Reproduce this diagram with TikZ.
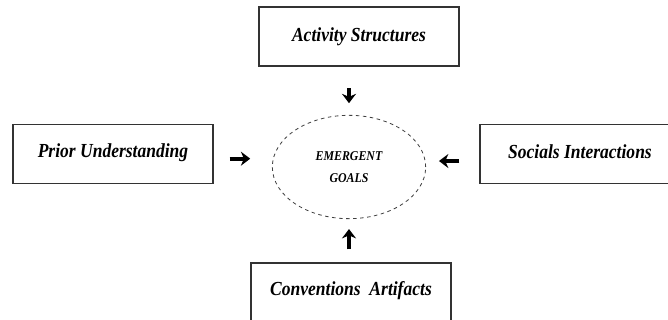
\documentclass[tikz,border=0pt]{standalone}
\usepackage{fontspec}
\newfontfamily\boxfont[FakeStretch=0.88]{Liberation Serif}
\usepackage{tikz}
\usetikzlibrary{positioning,arrows.meta,shapes.geometric}

\begin{document}
\begin{tikzpicture}[x=0.03cm,y=-0.03cm,
 every node/.style={font=\boxfont\bfseries\itshape\fontsize{17}{18}\selectfont},
 factor/.style={draw=black!80,line width=1.3pt,minimum width=6cm,minimum height=1.77cm,inner sep=0pt},
 goal/.style={ellipse,draw=black!75,dashed,line width=.7pt,minimum width=4.6cm,minimum height=3.1cm,align=center,
  font=\boxfont\bfseries\itshape\fontsize{11.5}{19}\selectfont},
 arr/.style={-{Stealth[length=8pt,width=12pt]},line width=3.6pt}]
\clip (0,0) rectangle (668,320);
\node[goal] (goals) at (349,167) {EMERGENT\\GOALS};
\node[factor] (act) at (359,36.5) {\raisebox{4pt}{Activity Structures}};
\node[factor] (prior) at (113,154) {\raisebox{6pt}{Prior Understanding}};
\node[factor] (social) at (580,154) {\raisebox{4pt}{Socials Interactions}};
\node[factor] (conv) at (351,292.5) {\raisebox{6pt}{Conventions\ \ Artifacts}};
% arrows into the goals
\draw[arr,shorten <=18.5pt,shorten >=10pt] (act.south -| goals) -- (goals.north);
\draw[arr,shorten <=13.5pt,shorten >=18.5pt] ([yshift=-4pt]prior.east) -- ([yshift=-4pt]prior.east -| goals.west);
\draw[arr,shorten <=17pt,shorten >=11pt] ([yshift=-6pt]social.west) -- ([yshift=-6pt]social.west -| goals.east);
\draw[arr,shorten <=11pt,shorten >=8.5pt] (conv.north -| goals) -- (goals.south);
\end{tikzpicture}
\end{document}
